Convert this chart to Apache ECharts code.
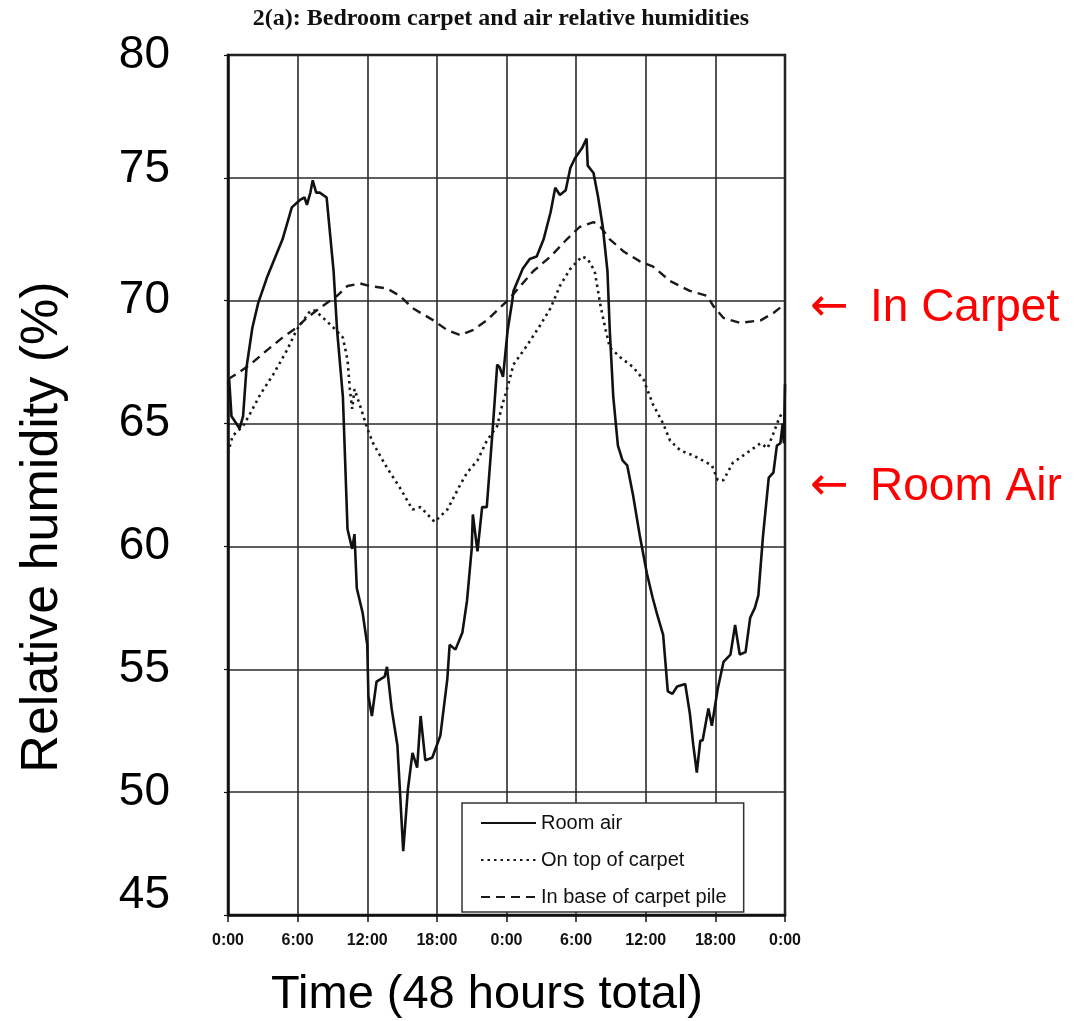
<!DOCTYPE html>
<html>
<head>
<meta charset="utf-8">
<script src="https://cdn.jsdelivr.net/npm/echarts@6/dist/echarts.min.js"></script>
<style>
  html, body { margin: 0; padding: 0; background: #fff; }
  #chart { width: 1091px; height: 1021px; }
</style>
</head>
<body>
<div id="chart"></div>
<script>
// ---- Data (hours from start of 48-hour period, relative humidity %) ----
var xTickHours = [0, 6, 12, 18, 24, 30, 36, 42, 48];
var yTicks = [45, 50, 55, 60, 65, 70, 75, 80];
var seriesNames = ['Room air', 'On top of carpet', 'In base of carpet pile'];

var roomAirHours = [0,0.1,0.3,1.0,1.3,1.6,2.1,2.6,3.4,4.7,5.5,6.2,6.6,6.8,7.1,7.3,7.6,7.9,8.5,9.1,9.4,9.9,10.3,10.7,10.9,11.1,11.6,12.0,12.1,12.4,12.8,13.5,13.7,14.1,14.6,14.8,15.1,15.5,15.9,16.3,16.6,17.0,17.6,18.3,18.9,19.1,19.6,20.2,20.6,21.0,21.1,21.5,21.9,22.3,22.8,23.2,23.4,23.7,24.1,24.5,24.6,25.4,26.0,26.6,27.2,27.8,28.2,28.6,29.1,29.5,29.9,30.5,30.9,31.0,31.5,31.9,32.3,32.7,32.9,33.2,33.6,34.0,34.4,34.9,35.5,36.1,36.6,37.0,37.5,37.9,38.3,38.7,39.4,39.8,40.1,40.4,40.7,40.9,41.4,41.7,42.2,42.7,43.3,43.7,44.1,44.6,45.0,45.4,45.7,46.1,46.6,47.0,47.3,47.6,47.8,47.9,48.0];
var roomAirValues = [66.6,66.8,65.3,64.8,65.3,67.3,68.9,69.9,71.0,72.5,73.8,74.1,74.2,73.9,74.4,74.9,74.4,74.4,74.2,71.2,68.8,66.1,60.7,59.9,60.5,58.3,57.3,56.0,53.9,53.1,54.5,54.7,55.1,53.4,51.9,50.2,47.6,50.1,51.6,51.0,53.1,51.3,51.4,52.3,54.6,56.0,55.8,56.5,57.8,59.9,61.3,59.8,61.6,61.6,64.7,67.4,67.3,66.9,68.8,70.0,70.4,71.3,71.7,71.8,72.5,73.6,74.6,74.3,74.5,75.4,75.8,76.2,76.6,75.5,75.2,74.2,73.0,71.2,68.8,66.1,64.1,63.5,63.3,62.1,60.4,58.9,57.9,57.2,56.4,54.1,54.0,54.3,54.4,53.2,51.9,50.8,52.1,52.1,53.4,52.7,54.2,55.3,55.6,56.8,55.6,55.7,57.1,57.5,58.0,60.4,62.8,63.0,64.1,64.2,65.0,64.2,66.6];

var carpetTopHours = [0,0.4,1.3,1.9,2.8,3.9,5.1,5.9,7.1,7.5,8.2,9.1,9.9,10.3,10.5,10.7,10.9,11.4,12.0,12.5,13.7,14.8,15.9,16.6,17.2,17.8,18.9,20.0,20.6,21.5,22.3,23.2,23.6,24.1,24.6,25.8,26.9,27.8,28.6,29.5,30.5,31.0,31.6,32.1,32.5,32.9,33.8,34.9,35.8,36.6,37.5,38.1,39.0,40.1,40.9,41.7,42.2,42.7,43.5,44.7,45.9,46.5,47.0,47.4,47.8];
var carpetTopValues = [63.8,64.5,64.9,65.4,66.2,67.0,68.0,68.8,69.6,69.6,69.3,68.9,68.5,67.6,66.4,65.6,66.4,65.7,64.8,64.2,63.2,62.4,61.5,61.6,61.3,61.0,61.5,62.5,63.0,63.5,64.3,64.9,65.7,66.5,67.4,68.2,69.0,69.7,70.6,71.3,71.8,71.7,71.2,69.8,68.9,68.1,67.7,67.3,66.8,65.8,65.0,64.3,63.9,63.7,63.5,63.3,62.7,62.7,63.4,63.8,64.2,64.0,64.6,65.1,65.5];

var carpetBaseHours = [0,1.0,1.9,3.4,4.7,5.9,6.8,7.9,9.1,9.4,10.3,11.4,12.2,13.7,14.8,15.9,17.7,18.9,20.0,21.1,22.3,23.4,24.1,25.2,26.3,27.8,29.2,30.3,31.5,32.1,32.9,34.1,35.5,36.6,38.1,39.8,41.3,41.8,42.7,44.1,45.9,47.0,47.8];
var carpetBaseValues = [66.8,67.1,67.4,68.0,68.5,68.9,69.3,69.7,70.1,70.2,70.6,70.7,70.6,70.5,70.2,69.7,69.2,68.8,68.6,68.8,69.2,69.7,70.0,70.6,71.2,71.8,72.5,73.0,73.2,73.0,72.5,72.0,71.6,71.4,70.8,70.4,70.2,69.8,69.3,69.1,69.2,69.5,69.8];

function zip(xs, ys) { return xs.map(function (x, i) { return [x, ys[i]]; }); }

var chart = echarts.init(document.getElementById('chart'), null, { renderer: 'canvas' });
var SANS = '"Liberation Sans", Arial, sans-serif';

var option = {
  animation: false,
  backgroundColor: '#ffffff',
  grid: {
    left: 228, top: 55, right: 306, bottom: 106,
    show: true, borderColor: '#111', borderWidth: 2.5, backgroundColor: 'transparent'
  },
  xAxis: {
    type: 'value', min: 0, max: 48, interval: 6,
    axisLine: { show: true, lineStyle: { color: '#111', width: 2.5 } },
    axisTick: { show: true, inside: false, length: 7, lineStyle: { color: '#111', width: 1.5 } },
    splitLine: { show: true, lineStyle: { color: '#2a2a2a', width: 1.6 } },
    axisLabel: {
      margin: 18, color: '#111', fontSize: 16, fontWeight: 'bold', fontFamily: SANS,
      showMinLabel: true, showMaxLabel: true,
      formatter: function (v) { return (v % 24) + ':00'; }
    }
  },
  yAxis: {
    type: 'value', min: 45, max: 80, interval: 5,
    axisLine: { show: true, lineStyle: { color: '#111', width: 2.5 } },
    axisTick: { show: true, inside: false, length: 4, lineStyle: { color: '#111', width: 1.2 } },
    splitLine: { show: true, lineStyle: { color: '#2a2a2a', width: 1.6 } },
    axisLabel: {
      margin: 58, color: '#000', fontFamily: SANS, fontSize: 46,
      formatter: function (v) {
        if (v === 45) return '{low|' + v + '}';
        if (v === 75) return '{up|' + v + '}';
        return '{n|' + v + '}';
      },
      rich: {
        n: { fontSize: 46, fontFamily: SANS, color: '#000' },
        low: { fontSize: 46, fontFamily: SANS, color: '#000', padding: [0, 0, 40, 0] },
        up: { fontSize: 46, fontFamily: SANS, color: '#000', padding: [0, 0, 18, 0] }
      }
    }
  },
  legend: {
    orient: 'vertical', left: 462, top: 803,
    data: seriesNames,
    itemWidth: 55, itemHeight: 14, itemGap: 17,
    padding: [10, 17, 5, 18],
    backgroundColor: '#fff', borderColor: '#333', borderWidth: 1.5,
    itemStyle: { opacity: 0, borderWidth: 0 },
    textStyle: { fontFamily: SANS, fontSize: 20, color: '#111', lineHeight: 20 }
  },
  graphic: [
    {
      type: 'text', x: 501, y: 19, silent: true,
      style: { text: '2(a): Bedroom carpet and air relative humidities', fill: '#111',
        font: 'bold 24px "Liberation Serif", "Times New Roman", serif', textAlign: 'center', textVerticalAlign: 'middle' }
    },
    {
      type: 'text', x: 43, y: 527, rotation: Math.PI / 2, silent: true,
      style: { text: 'Relative humidity (%)', fill: '#000',
        font: '52px "Liberation Sans", Arial, sans-serif', textAlign: 'center', textVerticalAlign: 'middle' }
    },
    {
      type: 'text', x: 487, y: 995, silent: true,
      style: { text: 'Time (48 hours total)', fill: '#000',
        font: '47px "Liberation Sans", Arial, sans-serif', textAlign: 'center', textVerticalAlign: 'middle' }
    },
    {
      type: 'text', x: 810, y: 308, silent: true,
      style: { text: '\u2190', fill: '#ff0000',
        font: '46px "DejaVu Sans", sans-serif', textAlign: 'left', textVerticalAlign: 'middle' }
    },
    {
      type: 'text', x: 870, y: 308, silent: true,
      style: { text: 'In Carpet', fill: '#ff0000',
        font: '46px "Liberation Sans", Arial, sans-serif', textAlign: 'left', textVerticalAlign: 'middle' }
    },
    {
      type: 'text', x: 810, y: 487, silent: true,
      style: { text: '\u2190', fill: '#ff0000',
        font: '46px "DejaVu Sans", sans-serif', textAlign: 'left', textVerticalAlign: 'middle' }
    },
    {
      type: 'text', x: 870, y: 487, silent: true,
      style: { text: 'Room Air', fill: '#ff0000',
        font: '46px "Liberation Sans", Arial, sans-serif', textAlign: 'left', textVerticalAlign: 'middle' }
    }
  ],
  series: [
    {
      name: seriesNames[0], type: 'line', symbol: 'none', smooth: false,
      data: zip(roomAirHours, roomAirValues), z: 5,
      lineStyle: { color: '#111', width: 2.6, type: 'solid' },
      itemStyle: { color: '#111' }
    },
    {
      name: seriesNames[1], type: 'line', symbol: 'none', smooth: false,
      data: zip(carpetTopHours, carpetTopValues), z: 4,
      lineStyle: { color: '#1a1a1a', width: 2.6, type: [2.5, 4] },
      itemStyle: { color: '#1a1a1a' }
    },
    {
      name: seriesNames[2], type: 'line', symbol: 'none', smooth: false,
      data: zip(carpetBaseHours, carpetBaseValues), z: 4,
      lineStyle: { color: '#1a1a1a', width: 2.4, type: [9, 6] },
      itemStyle: { color: '#1a1a1a' }
    }
  ]
};
chart.setOption(option);
</script>
</body>
</html>
